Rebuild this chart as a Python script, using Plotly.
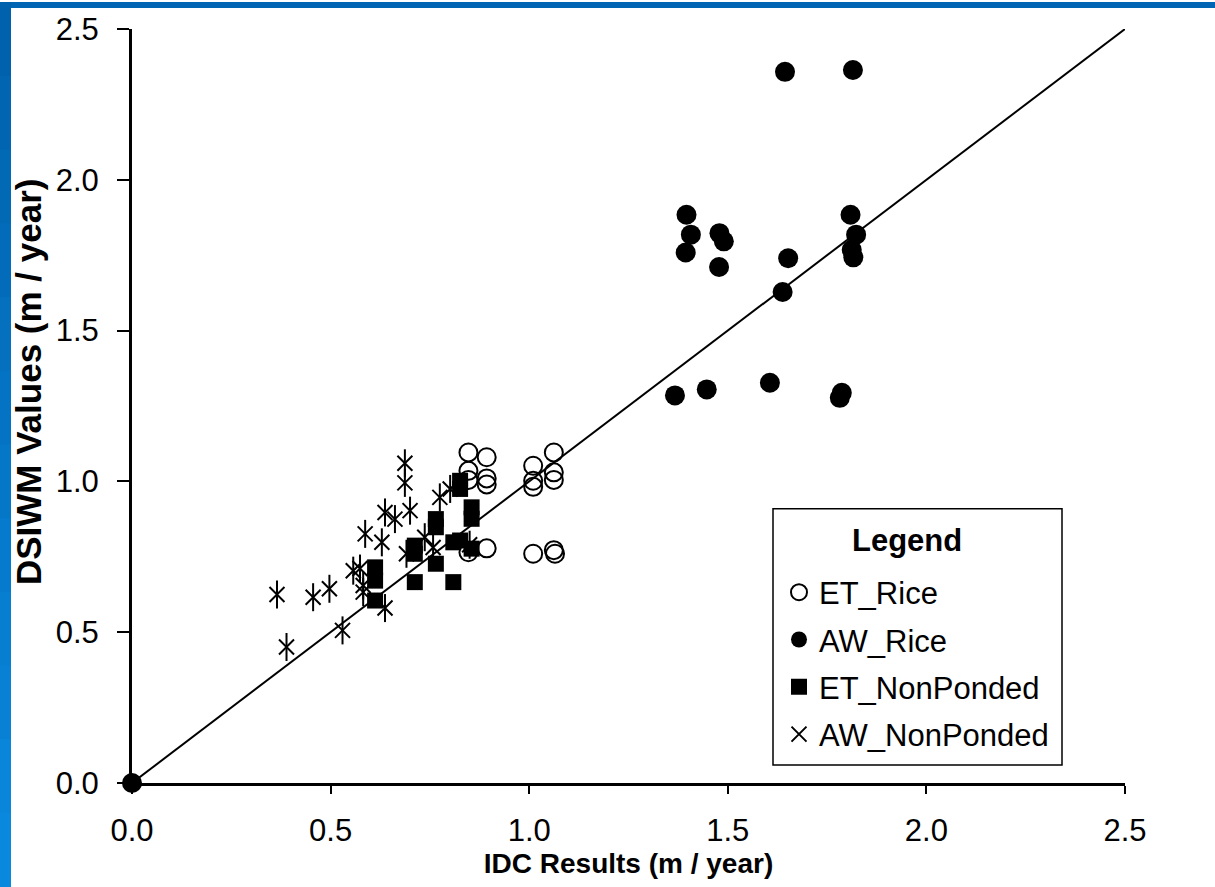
import plotly.graph_objects as go

# ---- data ----
et_rice_x = [0.847, 0.847, 0.847, 0.847, 0.893, 0.893, 0.893, 0.893,
             1.010, 1.010, 1.010, 1.010, 1.062, 1.062, 1.062, 1.062, 1.065]
et_rice_y = [1.096, 1.035, 1.005, 0.765, 1.080, 1.010, 0.990, 0.778,
             1.052, 1.002, 0.982, 0.760, 1.096, 1.030, 1.005, 0.772, 0.760]

aw_rice_x = [0.0, 1.644, 1.815, 1.396, 1.407, 1.394, 1.479, 1.490, 1.478,
             1.652, 1.638, 1.809, 1.823, 1.812, 1.816, 1.367, 1.447, 1.606,
             1.787, 1.782]
aw_rice_y = [0.0, 2.358, 2.364, 1.884, 1.818, 1.759, 1.823, 1.796, 1.711,
             1.740, 1.628, 1.884, 1.818, 1.768, 1.743, 1.285, 1.305, 1.327,
             1.294, 1.277]

et_np_x = [0.612, 0.612, 0.612, 0.712, 0.712, 0.712, 0.765, 0.765, 0.765,
           0.809, 0.809, 0.826, 0.826, 0.826, 0.855, 0.855, 0.855]
et_np_y = [0.715, 0.671, 0.605, 0.787, 0.760, 0.666, 0.875, 0.848, 0.727,
           0.798, 0.666, 1.002, 0.975, 0.804, 0.914, 0.876, 0.777]

aw_np_x = [0.365, 0.389, 0.456, 0.497, 0.530, 0.557, 0.574, 0.582, 0.582,
           0.587, 0.629, 0.637, 0.662, 0.700, 0.637, 0.687, 0.687, 0.691,
           0.737, 0.758, 0.775, 0.801, 0.850]
aw_np_y = [0.625, 0.451, 0.616, 0.644, 0.506, 0.704, 0.711, 0.633, 0.655,
           0.826, 0.798, 0.897, 0.875, 0.903, 0.580, 1.060, 0.995, 0.760,
           0.815, 0.781, 0.947, 0.975, 0.790]

line_x = [0.0, 2.5]
line_y = [0.0, 2.5]

tick_vals = [0.0, 0.5, 1.0, 1.5, 2.0, 2.5]
tick_text = ["0.0", "0.5", "1.0", "1.5", "2.0", "2.5"]

FONT = "Liberation Sans, Arial, sans-serif"

fig = go.Figure()

fig.add_trace(go.Scatter(x=line_x, y=line_y, mode="lines",
                         line=dict(color="black", width=2),
                         showlegend=False, hoverinfo="skip"))

fig.add_trace(go.Scatter(x=et_rice_x, y=et_rice_y, mode="markers", name="ET_Rice",
                         legendgroup="g1",
                         marker=dict(symbol="circle-open", size=18, color="black",
                                     line=dict(width=2, color="black"))))
fig.add_trace(go.Scatter(x=aw_rice_x, y=aw_rice_y, mode="markers", name="AW_Rice",
                         legendgroup="g2", cliponaxis=False,
                         marker=dict(symbol="circle", size=20, color="black")))
fig.add_trace(go.Scatter(x=et_np_x, y=et_np_y, mode="markers", name="ET_NonPonded",
                         legendgroup="g3",
                         marker=dict(symbol="square", size=16, color="black")))
fig.add_trace(go.Scatter(x=aw_np_x, y=aw_np_y, mode="markers", name="AW_NonPonded",
                         legendgroup="g4",
                         marker=dict(symbol="x-thin-open", size=15, color="black",
                                     line=dict(width=2, color="black"))))
fig.add_trace(go.Scatter(x=aw_np_x, y=aw_np_y, mode="markers", name="AW_NonPonded",
                         legendgroup="g4", showlegend=False,
                         marker=dict(symbol="line-ns-open", size=20, color="black",
                                     line=dict(width=2, color="black"))))

# plot area in pixels: x 132..1125, y 27..783
L, R, T, B = 132, 1125, 27, 783
W, H = R - L, B - T

def px_x(p):
    return (p - L) / W

def px_y(p):
    return (B - p) / H

shapes = []
# top blue bar
shapes.append(dict(type="rect", xref="paper", yref="paper",
                   x0=px_x(0), x1=px_x(1215), y0=px_y(6), y1=px_y(0),
                   fillcolor="#0066B3", line=dict(width=0), layer="above"))
# left blue bar with gradient
n = 12
c0 = (0x00, 0x62, 0xAC)
c1 = (0x0A, 0x88, 0xDE)
for i in range(n):
    t = i / (n - 1)
    c = tuple(round(a + (b - a) * t) for a, b in zip(c0, c1))
    shapes.append(dict(type="rect", xref="paper", yref="paper",
                       x0=px_x(0), x1=px_x(11),
                       y0=px_y(887 * (i + 1) / n + 1), y1=px_y(887 * i / n),
                       fillcolor="rgb(%d,%d,%d)" % c, line=dict(width=0),
                       layer="above"))
# legend frame
shapes.append(dict(type="rect", xref="paper", yref="paper",
                   x0=px_x(773), x1=px_x(1062), y0=px_y(765), y1=px_y(508),
                   fillcolor="white", line=dict(width=1.5, color="black"),
                   layer="below"))

fig.update_layout(
    width=1215, height=887,
    margin=dict(l=L, r=1215 - R, t=T, b=887 - B, pad=0),
    paper_bgcolor="white", plot_bgcolor="white",
    font=dict(family=FONT, color="black", size=26),
    shapes=shapes,
    xaxis=dict(range=[0, 2.5], tickvals=tick_vals, ticktext=tick_text,
               showgrid=False, zeroline=False, showline=True, linecolor="black",
               linewidth=3, ticks="outside", ticklen=8, tickwidth=2,
               tickcolor="black", tickfont=dict(size=31),
               ticklabelstandoff=10,
               title=dict(text="<b>IDC Results (m / year)</b>",
                          font=dict(size=28), standoff=0)),
    yaxis=dict(range=[0, 2.5], tickvals=tick_vals, ticktext=tick_text,
               showgrid=False, zeroline=False, showline=True, linecolor="black",
               linewidth=3, ticks="outside", ticklen=12, tickwidth=2,
               tickcolor="black", tickfont=dict(size=31),
               ticklabelstandoff=12),
    annotations=[
        dict(text="<b>DSIWM Values (m / year)</b>", xref="paper",
             yref="paper", x=px_x(28), y=px_y(381), xanchor="center",
             yanchor="middle", textangle=-90, showarrow=False,
             font=dict(size=35)),
        dict(text="<b>Legend</b>", xref="paper", yref="paper",
             x=px_x(907), y=px_y(540), xanchor="center", yanchor="middle",
             showarrow=False, font=dict(size=31)),
    ],
    legend=dict(x=px_x(779), y=px_y(565), xanchor="left", yanchor="top",
                bgcolor="rgba(0,0,0,0)", borderwidth=0,
                font=dict(size=31), tracegroupgap=4),
)

fig.write_html("out.html")
